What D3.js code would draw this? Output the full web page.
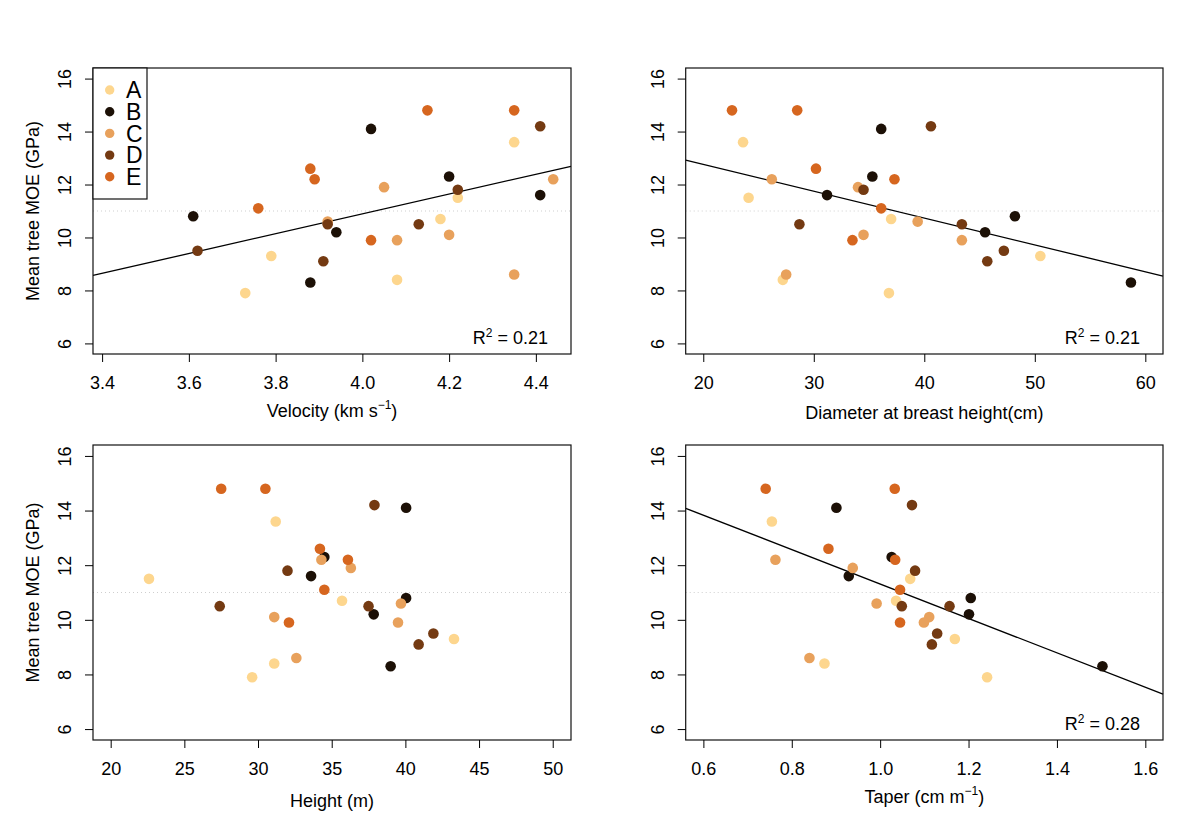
<!DOCTYPE html>
<html>
<head>
<meta charset="utf-8">
<script src="https://cdn.jsdelivr.net/npm/d3@7/dist/d3.min.js"></script>
<style>
  body { margin: 0; background: #fff; }
  svg { font-family: "Liberation Sans", Arial, Helvetica, sans-serif; }
</style>
</head>
<body>
<svg id="chart" width="1200" height="838"></svg>
<script>
/* Data */
// stand groups
const groupNames = ['A', 'B', 'C', 'D', 'E'];
const groupColors = ['#FDD68E', '#1C1006', '#E8A15C', '#743A12', '#D6661F'];

// one entry per tree (6 trees per group)
const treeGroup = [
  'A','A','A','A','A','A',
  'B','B','B','B','B','B',
  'C','C','C','C','C','C',
  'D','D','D','D','D','D',
  'E','E','E','E','E','E'
];
const moe = [
  13.6, 11.5, 8.4, 10.7, 7.9, 9.3,
  14.1, 12.3, 11.6, 10.8, 10.2, 8.3,
  12.2, 11.9, 10.6, 10.1, 9.9, 8.6,
  14.2, 11.8, 10.5, 10.5, 9.5, 9.1,
  14.8, 14.8, 12.6, 12.2, 11.1, 9.9
];
const velocity = [
  4.35, 4.22, 4.08, 4.18, 3.73, 3.79,
  4.02, 4.20, 4.41, 3.61, 3.94, 3.88,
  4.44, 4.05, 3.92, 4.20, 4.08, 4.35,
  4.41, 4.22, 3.92, 4.13, 3.62, 3.91,
  4.15, 4.35, 3.88, 3.89, 3.76, 4.02
];
const dbh = [
  23.6, 24.1, 27.2, 37.0, 36.8, 50.5,
  36.1, 35.3, 31.2, 48.2, 45.5, 58.7,
  26.2, 34.0, 39.4, 34.5, 43.4, 27.5,
  40.6, 34.5, 28.7, 43.4, 47.2, 45.7,
  22.6, 28.5, 30.2, 37.3, 36.1, 33.5
];
const height = [
  31.2, 22.6, 31.1, 35.7, 29.6, 43.3,
  40.05, 34.5, 33.6, 40.05, 37.85, 39.0,
  34.3, 36.3, 39.7, 31.1, 39.5, 32.6,
  37.9, 32.0, 27.4, 37.5, 41.9, 40.9,
  27.5, 30.5, 34.2, 36.1, 34.5, 32.1
];
const taper = [
  0.755, 1.068, 0.874, 1.036, 1.242, 1.169,
  0.901, 1.026, 0.929, 1.205, 1.201, 1.503,
  0.763, 0.938, 0.992, 1.111, 1.099, 0.840,
  1.072, 1.079, 1.049, 1.157, 1.129, 1.117,
  0.741, 1.033, 0.883, 1.034, 1.045, 1.045
];

// fitted lines (null = no fit drawn), one per panel
const fitIntercept = [-4.07, 14.79, null, 17.61];
const fitSlope = [3.74, -0.1014, null, -6.30];
const fitR2 = ['0.21', '0.21', null, '0.28'];

// reference level (dotted line)
const refMoe = 11;

// tick labels
const moeTicks = [6, 8, 10, 12, 14, 16];
const velocityTicks = [3.4, 3.6, 3.8, 4.0, 4.2, 4.4];
const dbhTicks = [20, 30, 40, 50, 60];
const heightTicks = [20, 25, 30, 35, 40, 45, 50];
const taperTicks = [0.6, 0.8, 1.0, 1.2, 1.4, 1.6];

/* Layout */
const fontSize = 18;
const moeDomain = [5.6, 16.4];

const panels = [
  { values: velocity, ticks: velocityTicks, fmt: '.1f', xDomain: [3.379, 4.481],
    left: 93, right: 571, top: 68, bottom: 354,
    title: ['Velocity (km s', '\u22121', ')'], titleY: 417, yTitle: true, legend: true },
  { values: dbh, ticks: dbhTicks, fmt: 'd', xDomain: [18.41, 61.6],
    left: 685.7, right: 1163, top: 68, bottom: 354,
    title: ['Diameter at breast height(cm)'], titleY: 419, yTitle: false, legend: false },
  { values: height, ticks: heightTicks, fmt: 'd', xDomain: [18.8, 51.24],
    left: 93, right: 571, top: 445, bottom: 740,
    title: ['Height (m)'], titleY: 807, yTitle: true, legend: false },
  { values: taper, ticks: taperTicks, fmt: '.1f', xDomain: [0.56, 1.64],
    left: 685.7, right: 1163, top: 445, bottom: 740,
    title: ['Taper (cm m', '\u22121', ')'], titleY: 803, yTitle: false, legend: false }
];

const color = d3.scaleOrdinal().domain(groupNames).range(groupColors);
const svg = d3.select('#chart');

function styleAxis(sel) {
  sel.select('.domain').remove();
  sel.attr('font-family', null).attr('font-size', null);
  sel.selectAll('.tick line').attr('stroke', '#000').attr('stroke-width', 1);
  sel.selectAll('.tick text').attr('fill', '#000').style('font-size', fontSize + 'px');
}

function addSuperText(sel, parts) {
  // parts: [base, superscript, rest]
  sel.append('tspan').text(parts[0]);
  if (parts.length > 1) {
    sel.append('tspan').attr('dy', -8).style('font-size', '12px').text(parts[1]);
    sel.append('tspan').attr('dy', 8).text(parts[2]);
  }
}

function drawPanel(p, i) {
  const x = d3.scaleLinear().domain(p.xDomain).range([p.left, p.right]);
  const y = d3.scaleLinear().domain(moeDomain).range([p.bottom, p.top]);
  const g = svg.append('g').attr('class', 'panel');

  // dotted reference line
  g.append('line')
    .attr('x1', p.left).attr('x2', p.right)
    .attr('y1', y(refMoe)).attr('y2', y(refMoe))
    .attr('stroke', '#cfcfcf').attr('stroke-width', 1)
    .attr('stroke-dasharray', '1,3');

  // regression line
  if (fitSlope[i] !== null) {
    const f = (v) => fitIntercept[i] + fitSlope[i] * v;
    g.append('line')
      .attr('x1', x(p.xDomain[0])).attr('y1', y(f(p.xDomain[0])))
      .attr('x2', x(p.xDomain[1])).attr('y2', y(f(p.xDomain[1])))
      .attr('stroke', '#000').attr('stroke-width', 1.3);
  }

  // points
  g.selectAll('circle.pt')
    .data(d3.range(moe.length))
    .join('circle')
      .attr('class', 'pt')
      .attr('cx', (d) => x(p.values[d]))
      .attr('cy', (d) => y(moe[d]))
      .attr('r', 5.3)
      .attr('fill', (d) => color(treeGroup[d]));

  // box
  g.append('rect')
    .attr('x', p.left).attr('y', p.top)
    .attr('width', p.right - p.left).attr('height', p.bottom - p.top)
    .attr('fill', 'none').attr('stroke', '#111').attr('stroke-width', 1.2);

  // x axis
  g.append('g')
    .attr('transform', 'translate(0,' + p.bottom + ')')
    .call(d3.axisBottom(x).tickValues(p.ticks).tickFormat(d3.format(p.fmt)).tickSize(8).tickPadding(14))
    .call(styleAxis);

  // y axis, labels turned like R's default
  g.append('g')
    .attr('transform', 'translate(' + p.left + ',0)')
    .call(d3.axisLeft(y).tickValues(moeTicks).tickSize(8))
    .call(styleAxis)
    .selectAll('.tick text')
      .attr('x', 0).attr('dy', '0.35em')
      .attr('text-anchor', 'middle')
      .attr('transform', 'translate(-28,0) rotate(-90)');

  // x title
  const t = g.append('text')
    .attr('x', (p.left + p.right) / 2).attr('y', p.titleY)
    .attr('text-anchor', 'middle')
    .style('font-size', fontSize + 'px');
  addSuperText(t, p.title);

  // y title
  if (p.yTitle) {
    g.append('text')
      .attr('transform', 'translate(33,' + (p.top + p.bottom) / 2 + ') rotate(-90)')
      .attr('text-anchor', 'middle').attr('dy', '0.35em')
      .style('font-size', fontSize + 'px')
      .text('Mean tree MOE (GPa)');
  }

  // R squared
  if (fitR2[i] !== null) {
    const r = g.append('text')
      .attr('x', p.right - 23).attr('y', p.bottom - 10)
      .attr('text-anchor', 'end')
      .style('font-size', fontSize + 'px');
    r.append('tspan').text('R');
    r.append('tspan').attr('dy', -7).style('font-size', '12px').text('2');
    r.append('tspan').attr('dy', 7).text(' = ' + fitR2[i]);
  }

  if (p.legend) drawLegend(g, p);
}

function drawLegend(g, p) {
  const rowH = 21.7;
  const lg = g.append('g').attr('class', 'legend');
  lg.append('rect')
    .attr('x', p.left).attr('y', p.top)
    .attr('width', 54).attr('height', 131)
    .attr('fill', '#fff').attr('stroke', '#111').attr('stroke-width', 1.2);
  const rows = lg.selectAll('g.row')
    .data(groupNames)
    .join('g')
      .attr('class', 'row')
      .attr('transform', (d, k) => 'translate(' + p.left + ',' + (p.top + 22 + k * rowH) + ')');
  rows.append('circle')
    .attr('cx', 16.7).attr('cy', 0).attr('r', 4.7)
    .attr('fill', (d) => color(d));
  rows.append('text')
    .attr('x', 33).attr('y', 8.3)
    .style('font-size', '23px')
    .text((d) => d);
}

panels.forEach(drawPanel);
</script>
</body>
</html>
